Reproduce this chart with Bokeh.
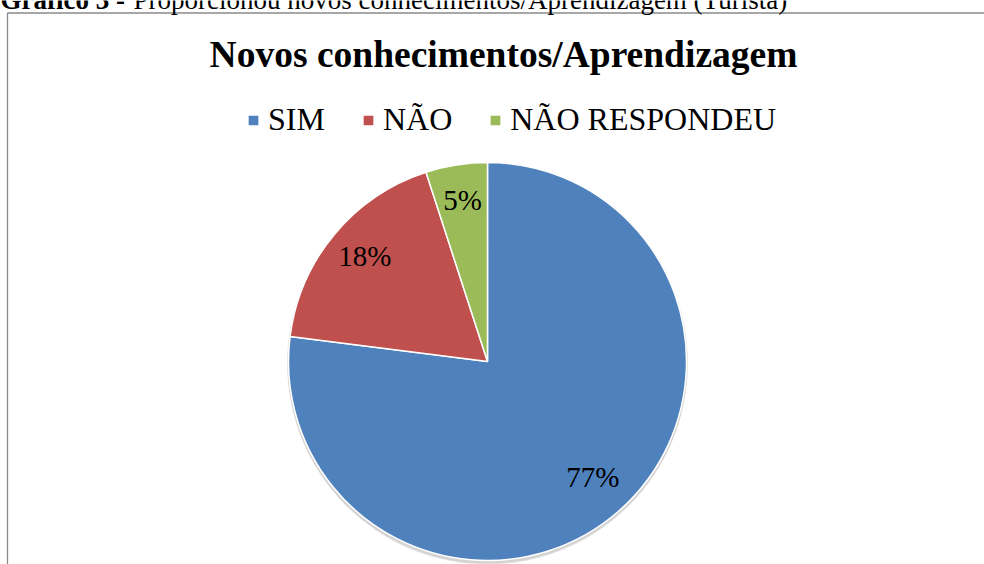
import numpy as np
from bokeh.plotting import figure
from bokeh.models import Range1d, Legend, LegendItem, ColumnDataSource
from bokeh.core.properties import value
from bokeh.embed import file_html
from bokeh.resources import INLINE

# ---- data ----
categories = ["SIM", "NÃO", "NÃO RESPONDEU"]
values = [77, 18, 5]
colors = ["#4F81BD", "#C0504D", "#9BBB59"]
title_text = "Novos conhecimentos/Aprendizagem"
caption_bold = "Gráfico 3 -"
caption_rest = "Proporcionou novos conhecimentos/Aprendizagem (Turista)"

# ---- layout ----
W, H = 984, 564
FONT = "Liberation Serif"
cx, cy_ref, R = 487, 361, 199
cy = H - cy_ref

p = figure(width=W, height=H, x_range=Range1d(0, W), y_range=Range1d(0, H),
           output_backend="svg", toolbar_location=None, min_border=0,
           x_axis_location=None, y_axis_location=None)
p.grid.visible = False
p.outline_line_color = None
p.background_fill_color = "white"
p.border_fill_color = "white"

# frame border of the embedded chart
p.quad(left=[7], right=[W + 20], bottom=[-20], top=[H - 12.5],
       fill_color=None, line_color="#8a8a8a", line_width=1.3)

# pie geometry from values (clockwise from 12 o'clock)
vals = np.array(values, dtype=float)
fr = vals / vals.sum()
cum_after = np.cumsum(fr)
cum_before = cum_after - fr
a_start_cw = np.pi / 2 - 2 * np.pi * cum_before
a_end_cw = np.pi / 2 - 2 * np.pi * cum_after
mid = (a_start_cw + a_end_cw) / 2
lr = 0.80 * R
src = ColumnDataSource(dict(
    cat=categories, color=colors,
    start=a_end_cw, end=a_start_cw,
    lx=cx + lr * np.cos(mid), ly=cy + lr * np.sin(mid) + 4,
    lab=[f"{int(round(f * 100))}%" for f in fr],
))

# soft shadow
p.circle(x=[cx], y=[cy - 3], radius=R + 1, fill_color="black", fill_alpha=0.10, line_color=None)
p.circle(x=[cx], y=[cy - 1.5], radius=R + 1.5, fill_color="black", fill_alpha=0.08, line_color=None)

wr = p.wedge(x=cx, y=cy, radius=R, start_angle="start", end_angle="end",
             fill_color="color", line_color="white", line_width=1.5, source=src)

p.text(x="lx", y="ly", text="lab", source=src, text_font=value(FONT),
       text_font_size="29px", text_align="center", text_baseline="middle",
       text_color="black")

# title
p.text(x=[503], y=[H - 54], text=[title_text], text_font=value(FONT),
       text_font_style="bold", text_font_size="37.5px", text_color="black",
       text_align="center", text_baseline="alphabetic")

# caption (cut off at the top as in the source page)
p.text(x=[0], y=[H + 1], text=[caption_bold], text_font=value(FONT),
       text_font_style="bold", text_font_size="27px", text_color="black",
       text_align="left", text_baseline="alphabetic")
p.text(x=[133], y=[H + 1], text=[caption_rest], text_font=value(FONT),
       text_font_size="27px", text_color="black",
       text_align="left", text_baseline="alphabetic")

# legend
legend = Legend(items=[LegendItem(label=c, renderers=[wr], index=i) for i, c in enumerate(categories)],
                orientation="horizontal", location=(246, H - 138),
                glyph_width=14, glyph_height=14, label_standoff=8, spacing=36,
                padding=0, margin=0, border_line_color=None, background_fill_alpha=0,
                label_text_font=FONT, label_text_font_size="32px", label_text_color="black")
p.add_layout(legend)

open("out.html", "w").write(file_html(p, INLINE, title="Novos conhecimentos/Aprendizagem"))
